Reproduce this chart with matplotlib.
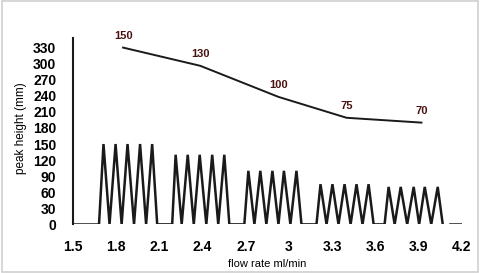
import matplotlib
matplotlib.use("Agg")
import matplotlib.pyplot as plt
from matplotlib.patches import Rectangle

# trace of the peaks (flow rate, peak height)
trace_x = [1.681, 1.712, 1.754, 1.796, 1.838, 1.879, 1.924, 1.966, 2.008, 2.050, 2.085,
           2.189, 2.213, 2.255, 2.297, 2.339, 2.380, 2.426, 2.467, 2.509, 2.551, 2.586,
           2.690, 2.718, 2.760, 2.801, 2.843, 2.885, 2.927, 2.965, 3.010, 3.052, 3.087,
           3.191, 3.219, 3.261, 3.302, 3.344, 3.386, 3.428, 3.469, 3.511, 3.553, 3.588,
           3.664, 3.692, 3.734, 3.776, 3.821, 3.866, 3.904, 3.943, 3.988, 4.033, 4.068]
trace_y = [0, 150, 0, 150, 0, 150, 0, 150, 0, 150, 0,
           0, 130, 0, 130, 0, 130, 0, 130, 0, 130, 0,
           0, 100, 0, 100, 0, 100, 0, 100, 0, 100, 0,
           0, 75, 0, 75, 0, 75, 0, 75, 0, 75, 0,
           0, 70, 0, 70, 0, 70, 0, 70, 0, 70, 0]
base_left_x = [1.5, 1.665]
base_right_x = [4.117, 4.2]

# summary line above the peaks
top_x = [1.848, 2.384, 2.927, 3.40, 3.92]
top_y = [330, 296, 238, 199, 190]
top_labels = ["150", "130", "100", "75", "70"]

xticks = [1.5, 1.8, 2.1, 2.4, 2.7, 3.0, 3.3, 3.6, 3.9, 4.2]
xtick_labels = ["1.5", "1.8", "2.1", "2.4", "2.7", "3", "3.3", "3.6", "3.9", "4.2"]
yticks = [0, 30, 60, 90, 120, 150, 180, 210, 240, 270, 300, 330]

plt.rcParams["font.family"] = ["Liberation Sans", "DejaVu Sans"]

fig = plt.figure(figsize=(4.8, 2.73), dpi=100)
fig.patches.append(Rectangle((0.004, 0.004), 0.992, 0.992, transform=fig.transFigure,
                             fill=False, edgecolor="#d0d0d0", linewidth=1.2))
ax = fig.add_axes([0.152, 0.178, 0.81, 0.683])

ax.plot(trace_x, trace_y, color="#1a1a1a", linewidth=1.8, solid_joinstyle="miter")
ax.plot(base_left_x, [0, 0], color="#1a1a1a", linewidth=1.8)
ax.plot(base_right_x, [0, 0], color="#1a1a1a", linewidth=1.8)
ax.plot(top_x, top_y, color="#1a1a1a", linewidth=1.4)

for x, y, t in zip(top_x, top_y, top_labels):
    ax.annotate(t, (x, y), xytext=(0, 5), textcoords="offset points",
                ha="center", va="bottom", fontsize=8, fontweight="bold", color="#4a1212")

ax.set_xlim(1.5, 4.2)
ax.set_ylim(0, 348)
ax.set_xticks(xticks)
ax.set_xticklabels(xtick_labels)
ax.set_yticks(yticks)
for lab in ax.get_xticklabels() + ax.get_yticklabels():
    lab.set_fontweight("bold")
    lab.set_fontsize(10)
ax.tick_params(axis="both", length=0)
ax.tick_params(axis="x", pad=11)
ax.tick_params(axis="y", pad=12)

for s in ["top", "right", "bottom"]:
    ax.spines[s].set_visible(False)
ax.spines["left"].set_linewidth(1.5)
ax.spines["left"].set_color("#1a1a1a")

fig.text(267 / 480, 1 - 264 / 273, "flow rate ml/min", fontsize=8,
         ha="center", va="center")
fig.text(21 / 480, 1 - 128 / 273, "peak height (mm)", fontsize=8.5,
         ha="center", va="center", rotation=90)

fig.savefig("out.png", dpi=100)
